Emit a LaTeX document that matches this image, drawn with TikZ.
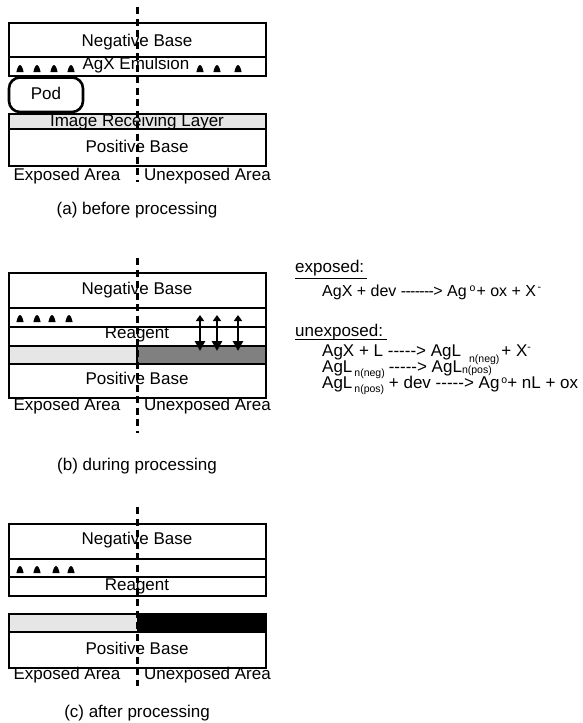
\documentclass[tikz,border=0pt]{standalone}
\usepackage{fontspec}
\setmainfont{Liberation Sans}
\usetikzlibrary{arrows.meta}

\definecolor{paleshade}{HTML}{E6E6E6}
\definecolor{midshade}{HTML}{808080}

% single hyphens that never join into a TeX dash ligature
\newcommand\hy{-\kern0pt}
\newcommand\hyt{-\kern-0.7pt}
\newcommand\sm[2]{\raisebox{#1}{\fontsize{10.5}{11}\selectfont #2}}

\tikzset{
  layer/.style={draw=black, line width=2.6pt},
  lbl/.style={font=\fontsize{17}{18}\selectfont, inner sep=0pt, anchor=base},
  eqn/.style={font=\fontsize{17}{18}\selectfont, inner sep=0pt, anchor=base west},
  divider/.style={line width=3pt, dash pattern=on 7pt off 4.5pt},
  uline/.style={line width=1.3pt},
  flow/.style={line width=2.6pt, {Triangle[length=6pt,width=8pt]}-{Triangle[length=10pt,width=10pt]}},
  grain/.pic={\fill (-3.6,0.5) .. controls (-2.8,-3.5) and (-1.4,-6.5) .. (0,-6.5)
                     .. controls (1.4,-6.5) and (2.8,-3.5) .. (3.6,0.5) -- cycle;}
}

\begin{document}
\begin{tikzpicture}[x=1pt,y=-1pt]
\useasboundingbox (0,0) rectangle (582,723);

% ---------------- (a) before processing ----------------
\draw[layer] (9,23) rectangle (266,57);
\draw[layer] (9,57) rectangle (266,76);
\draw[layer, rounded corners=11pt] (9,77.5) rectangle (83,112);
\draw[layer, fill=paleshade] (9,114) rectangle (266,129);
\draw[layer] (9,129) rectangle (266,166);
\foreach \gx in {20,37,54,71,200,217,238} \pic at (\gx,71.5) {grain};
\node[lbl] (anegt) at (137,46) {Negative Base};
\node[lbl] (aemt) at (136,69.5) {AgX Emulsion};
\node[lbl] (apod) at (46,99) {Pod};
\node[lbl] (airl) at (137,126) {Image Receiving Layer};
\node[lbl] (apos) at (137,152) {Positive Base};
\node[lbl] (aexp) at (67,180) {Exposed Area};
\node[lbl] (aunx) at (207.5,180) {Unexposed Area};
\coordinate (atop) at (137,7);
\coordinate (abot) at (137,182);
\draw[divider] (atop) -- (abot);
\node[lbl] (acap) at (137,214) {(a) before processing};

% ---------------- (b) during processing ----------------
\draw[layer] (9,273) rectangle (266,308);
\draw[layer] (9,308) rectangle (266,327);
\draw[layer] (9,327) rectangle (266,346);
\fill[paleshade] (9,346) rectangle (137,364);
\fill[midshade] (137,346) rectangle (266,364);
\draw[layer] (9,346) rectangle (266,364);
\draw[layer] (137,346) -- (137,364);
\draw[layer] (9,364) rectangle (266,398);
\foreach \gx in {20,37,52,69} \pic at (\gx,321.5) {grain};
\foreach \i/\ax in {1/200,2/217,3/238} {
  \coordinate (bt\i) at (\ax,315);
  \coordinate (bb\i) at (\ax,351);
  \draw[flow] (bt\i) -- (bb\i);
}
\node[lbl] (bnegt) at (137,294) {Negative Base};
\node[lbl] (breag) at (137,338) {Reagent};
\node[lbl] (bpos) at (137,384) {Positive Base};
\node[lbl] (bexp) at (67,410.5) {Exposed Area};
\node[lbl] (bunx) at (207.5,410.5) {Unexposed Area};
\coordinate (btop) at (137,258);
\coordinate (bbot) at (137,433);
\draw[divider] (btop) -- (bbot);
\node[lbl] (bcap) at (137,470) {(b) during processing};

% reactions
\node[eqn] (exph) at (295,272.5) {exposed:};
\draw[uline] (295,278.5) -- (367,278.5);
\node[eqn, font=\fontsize{16}{18}\selectfont] (eq1) at (322,296.5)
  {AgX + dev \hyt\hyt\hyt\hyt\hyt\hyt\hyt> Ag\hspace{3pt}\sm{5pt}{o}\hspace{1pt}+ ox + X\hspace{1.5pt}\sm{6pt}{-}};
\node[eqn] (unexph) at (295,336.5) {unexposed:};
\draw[uline] (295,339.5) -- (387,339.5);
\node[eqn] (eq2) at (322,356)
  {AgX + L \hy\hy\hy\hy\hy> AgL\hspace{8pt}\sm{-6pt}{n(neg)}\hspace{2pt}+ X\sm{6pt}{-}};
\node[eqn] (eq3) at (322,372.5)
  {AgL\hspace{2pt}\sm{-3.5pt}{n(neg)}\hspace{4pt}\hy\hy\hy\hy\hy> AgL\sm{-1pt}{n(pos)}};
\node[eqn] (eq4) at (322,388.5)
  {AgL\hspace{2pt}\sm{-3.5pt}{n(pos)} + dev \hy\hy\hy\hy\hy> Ag\hspace{2pt}\sm{5pt}{o}+ nL + ox};

% ---------------- (c) after processing ----------------
\draw[layer] (9,524) rectangle (266,559);
\draw[layer] (9,559) rectangle (266,577);
\draw[layer] (9,577) rectangle (266,596);
\fill[paleshade] (9,614) rectangle (137,632);
\fill[black] (137,614) rectangle (266,632);
\draw[layer] (9,614) rectangle (266,632);
\draw[layer] (9,632) rectangle (266,668);
\foreach \gx in {20,37,56,71} \pic at (\gx,572.5) {grain};
\node[lbl] (cnegt) at (137,544) {Negative Base};
\node[lbl] (creag) at (137,590) {Reagent};
\node[lbl] (cpos) at (137,654) {Positive Base};
\node[lbl] (cexp) at (67,679.5) {Exposed Area};
\node[lbl] (cunx) at (207.5,679.5) {Unexposed Area};
\coordinate (ctop) at (137,507);
\coordinate (cbot) at (137,686);
\draw[divider] (ctop) -- (cbot);
\node[lbl] (ccap) at (137,717) {(c) after processing};

\end{tikzpicture}
\end{document}
